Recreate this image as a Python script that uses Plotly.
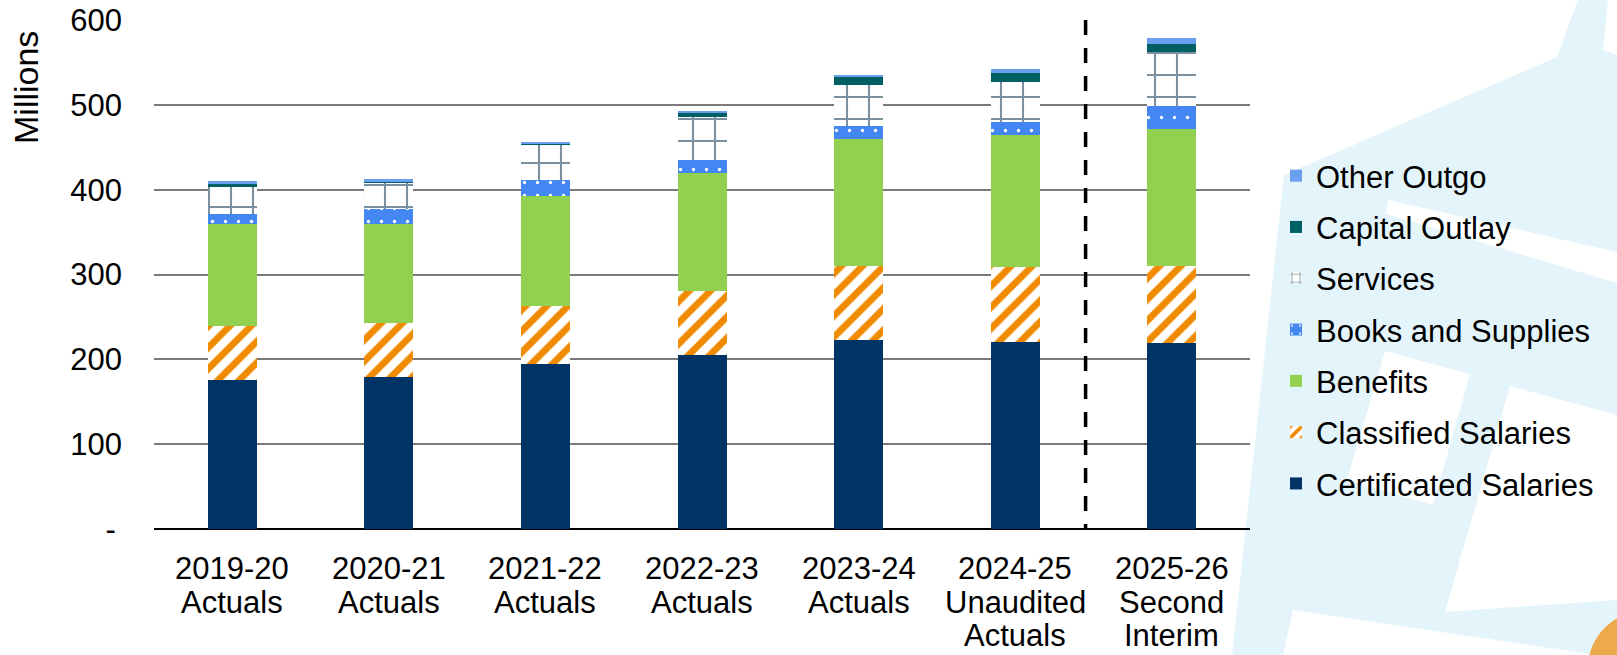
import plotly.graph_objects as go

# ---------------- data ----------------
categories = ["2019-20<br>Actuals", "2020-21<br>Actuals", "2021-22<br>Actuals",
              "2022-23<br>Actuals", "2023-24<br>Actuals",
              "2024-25<br>Unaudited<br>Actuals", "2025-26<br>Second<br>Interim"]
certificated = [176, 179, 194, 205, 223, 220, 219]
classified = [63, 64, 69, 75, 87, 89, 91]
benefits = [121, 116, 129, 140, 150, 155, 162]
books = [11.5, 18, 19, 15, 14.5, 15.5, 27]
services = [32, 31, 42.5, 51, 48.5, 47.5, 63]
capital = [3, 1, 0.7, 4.5, 10, 10.3, 10]
other = [3.2, 3.4, 1.2, 1.5, 2.7, 5, 7]

y_tickvals = [0, 100, 200, 300, 400, 500, 600]
y_ticktext = ["-\u2009", "100", "200", "300", "400", "500", "600"]

FONT = "Liberation Sans, Arial, sans-serif"
FS = 31

# plot area in pixels
L, R, T, B = 154, 1250, 20, 529
W, H = 1617, 655


def px(x):
    return (x - L) / (R - L)


def py(y):
    return (B - y) / (B - T)


def poly(points):
    return "M " + " L ".join(f"{px(x):.4f},{py(y):.4f}" for x, y in points) + " Z"


fig = go.Figure()

series = [
    ("Certificated Salaries", certificated, dict(color="#013466")),
    ("Classified Salaries", classified, dict(color="#F08A00",
        pattern=dict(shape="/", bgcolor="white", fgcolor="#F08A00", size=15, solidity=0.45, fillmode="replace"))),
    ("Benefits", benefits, dict(color="#92D050")),
    ("Books and Supplies", books, dict(color="#4487F2",
        pattern=dict(shape=".", bgcolor="#4487F2", fgcolor="white", size=13, solidity=0.05, fillmode="replace"))),
    ("Services", services, dict(color="#7B909E",
        pattern=dict(shape="+", bgcolor="white", fgcolor="#7B909E", size=22, solidity=0.18, fillmode="replace"))),
    ("Capital Outlay", capital, dict(color="#005F63")),
    ("Other Outgo", other, dict(color="#6A9FF0")),
]

n = len(series)
for i, (name, vals, mk) in enumerate(series):
    mk = dict(mk)
    mk["line"] = dict(width=0)
    fig.add_trace(go.Bar(x=categories, y=vals, name=name, marker=mk,
                         legendgroup=f"g{i}", legendrank=n - i))

shapes = []
cyan = "#E3F4FA"
# decorative background
shapes.append(dict(type="path", xref="paper", yref="paper", layer="below",
                   path=poly([(1284, 175), (1557, 57), (1578, 0), (1617, 0), (1617, 655), (1232, 655)]),
                   fillcolor=cyan, line=dict(width=0)))
for pts in [
    [(1388, 200), (1617, 252), (1617, 283), (1386, 214)],
    [(1385, 351), (1470, 374), (1433, 505), (1347, 480)],
    [(1510, 386), (1617, 415), (1617, 600), (1445, 612)],
    [(1293, 610), (1597, 655), (1283, 655)],
    [(1608, 0), (1617, 0), (1617, 55), (1603, 50)],
]:
    shapes.append(dict(type="path", xref="paper", yref="paper", layer="below",
                       path=poly(pts), fillcolor="white", line=dict(width=0)))
# orange corner circle
shapes.append(dict(type="circle", xref="paper", yref="paper", layer="below",
                   x0=px(1645 - 57), x1=px(1645 + 57), y0=py(668 + 57), y1=py(668 - 57),
                   fillcolor="#EDA94A", line=dict(width=0)))
# dashed separator (between the actuals and the interim projection)
shapes.append(dict(type="line", xref="x", yref="y", x0=5.45, x1=5.45, y0=600, y1=0,
                   line=dict(color="black", width=3.5, dash="15px,13px"), layer="above"))

annotations = [dict(text="Millions", xref="paper", yref="paper", x=px(26), y=py(88),
                    textangle=-90, showarrow=False, xanchor="center", yanchor="middle",
                    font=dict(size=34, family=FONT, color="black"))]
# category labels, one annotation per line (tighter line spacing than tick labels)
line_offsets = [39, 73, 106]
for cat in categories:
    for j, part in enumerate(cat.split("<br>")):
        annotations.append(dict(text=part, xref="x", yref="paper", x=cat, y=0,
                                yshift=-line_offsets[j], showarrow=False,
                                xanchor="center", yanchor="middle",
                                font=dict(size=FS, family=FONT, color="black")))

fig.update_layout(
    width=W, height=H, autosize=False,
    margin=dict(l=L, r=W - R, t=T, b=H - B, pad=0, autoexpand=False),
    paper_bgcolor="white", plot_bgcolor="rgba(0,0,0,0)",
    barmode="stack", bargap=0.687,
    font=dict(family=FONT, size=FS, color="black"),
    shapes=shapes,
    showlegend=True,
    legend=dict(x=px(1276), y=py(149), xanchor="left", yanchor="top",
                traceorder="grouped", tracegroupgap=8,
                bgcolor="rgba(0,0,0,0)", font=dict(size=FS, family=FONT, color="black"),
                itemwidth=30),
    annotations=annotations,
)

fig.update_xaxes(type="category", showgrid=False, ticks="", showticklabels=False,
                 showline=False, zeroline=False, automargin=False)
fig.update_yaxes(range=[0, 600], tickvals=y_tickvals, ticktext=y_ticktext,
                 showgrid=True, gridcolor="#7a7a7a", gridwidth=2,
                 zeroline=True, zerolinecolor="black", zerolinewidth=2,
                 ticks="", ticklabelstandoff=31, automargin=False,
                 tickfont=dict(size=FS, family=FONT, color="black"))

fig.write_html("out.html")
